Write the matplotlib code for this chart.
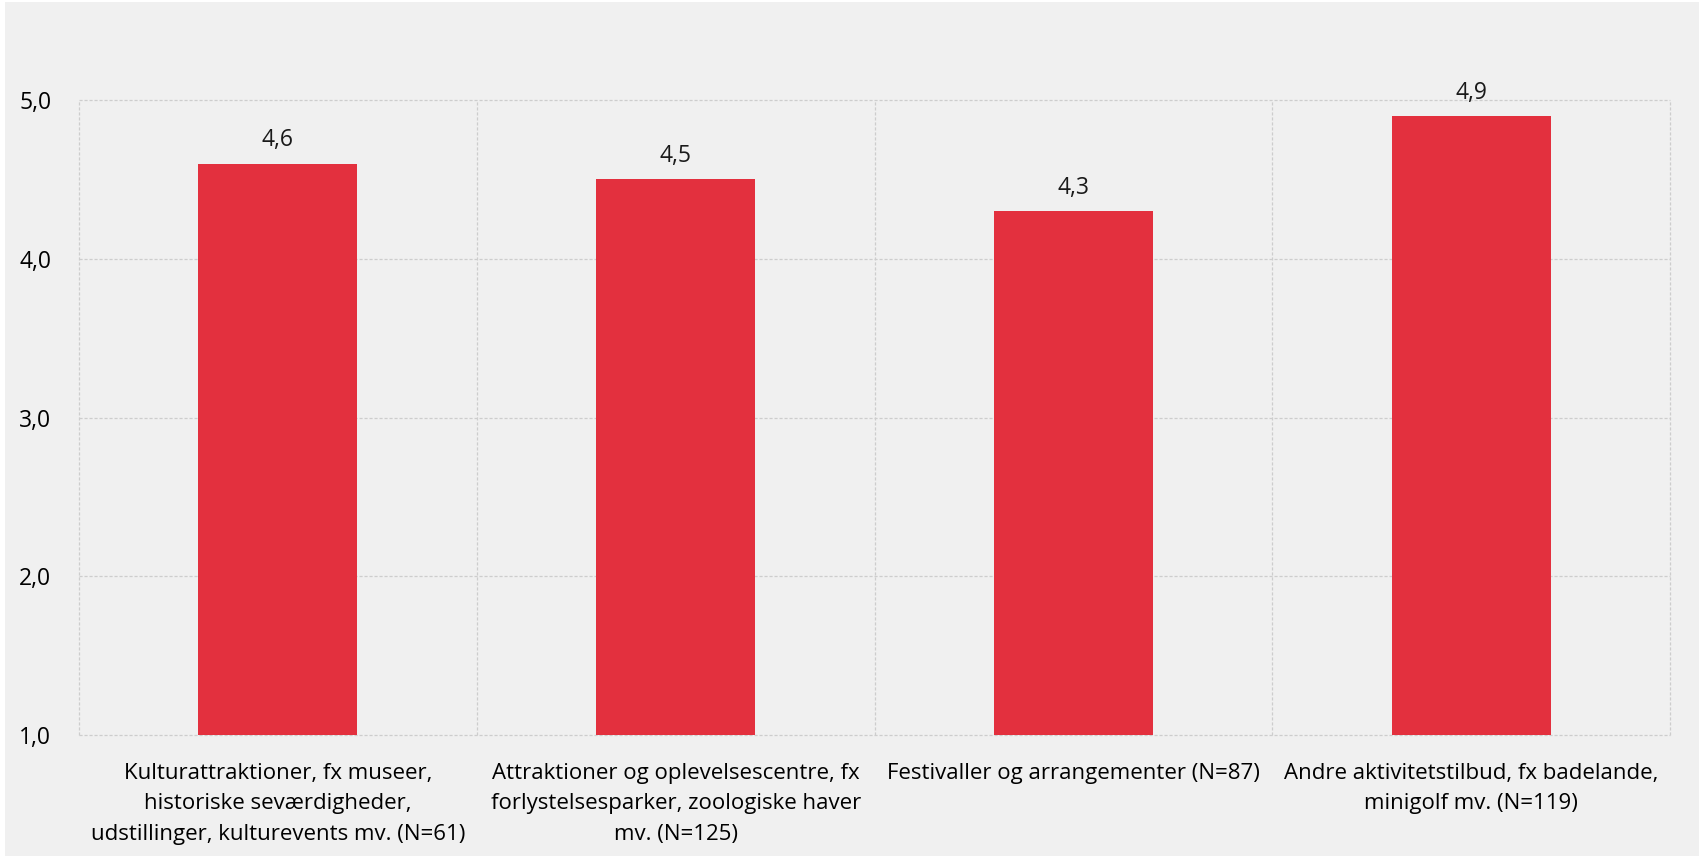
import matplotlib.pyplot as plt
from matplotlib.patches import Rectangle

plt.rcParams['font.family'] = ['Open Sans', 'DejaVu Sans']

# data
categories = [
    'Kulturattraktioner, fx museer,\nhistoriske seværdigheder,\nudstillinger, kulturevents mv. (N=61)',
    'Attraktioner og oplevelsescentre, fx\nforlystelsesparker, zoologiske haver\nmv. (N=125)',
    'Festivaller og arrangementer (N=87)',
    'Andre aktivitetstilbud, fx badelande,\nminigolf mv. (N=119)',
]
values = [4.6, 4.5, 4.3, 4.9]
y_ticks = [1.0, 2.0, 3.0, 4.0, 5.0]

BG = '#f0f0f0'
BAR = '#e3303e'
GRID = '#cdcdcd'

W, H = 1701, 861
fig = plt.figure(figsize=(W / 100, H / 100), dpi=100, facecolor='white')
fig.patches.append(Rectangle((5 / W, 5 / H), (W - 7) / W, (H - 7) / H,
                             transform=fig.transFigure, facecolor=BG,
                             edgecolor='none', zorder=-10))

# plot area in pixels: left 79, right 1670, top 100, bottom 735
ax = fig.add_axes([79 / W, 1 - 735 / H, (1670 - 79) / W, (735 - 100) / H])
ax.set_facecolor(BG)

x = range(len(values))
ax.bar(x, values, width=0.40, bottom=0, color=BAR, zorder=3)
ax.set_xlim(-0.5, len(values) - 0.5)
ax.set_ylim(1.0, 5.0)

# dashed grid, horizontal at ticks, vertical at category borders
for y in y_ticks:
    ax.axhline(y, color=GRID, lw=0.9, ls=(0, (2.5, 1.5)), zorder=1, clip_on=False)
for b in [i - 0.5 for i in range(len(values) + 1)]:
    ax.axvline(b, color=GRID, lw=0.9, ls=(0, (2.5, 1.5)), zorder=1, clip_on=False)

for s in ax.spines.values():
    s.set_visible(False)

ax.set_yticks(y_ticks)
ax.set_yticklabels([f'{v:.1f}'.replace('.', ',') for v in y_ticks], fontsize=16.5)
ax.set_xticks(list(x))
ax.set_xticklabels(categories, fontsize=16, linespacing=1.6, va='top')
ax.tick_params(axis='y', length=0, pad=20)
ax.tick_params(axis='x', length=0, pad=20)

for i, v in enumerate(values):
    ax.text(i, v + 0.07, f'{v:.1f}'.replace('.', ','), ha='center', va='bottom',
            fontsize=16.5, color='#1a1a1a', zorder=4)

fig.savefig('out.png', dpi=100, facecolor=fig.get_facecolor())
